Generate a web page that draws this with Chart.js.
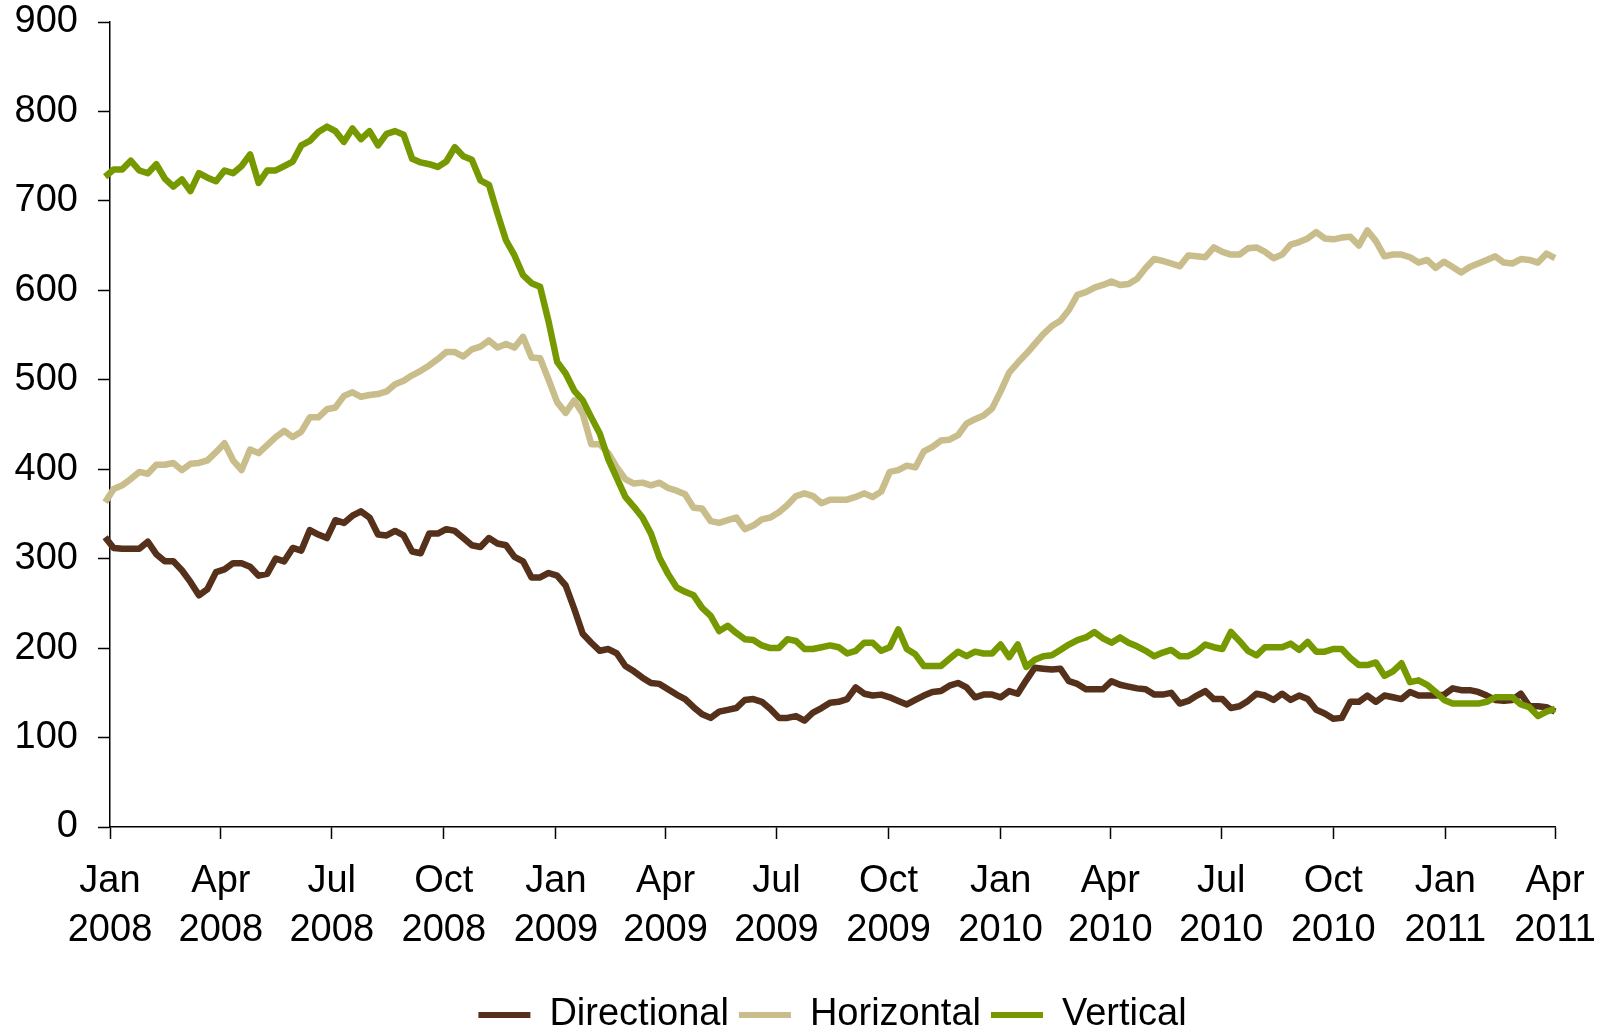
<!DOCTYPE html>
<html>
<head>
<meta charset="utf-8">
<title>Rigs by trajectory</title>
<script src="https://cdn.jsdelivr.net/npm/chart.js@4.4.1/dist/chart.umd.min.js"></script>
<style>
  html, body { margin: 0; padding: 0; background: #fff; overflow: hidden; }
  canvas { display: block; }
</style>
</head>
<body>
<canvas id="rigChart" width="1610" height="1044"></canvas>
<script>
// weekly counts, first week ending 28 Dec 2007, last one 1 Apr 2011
const firstWeek = [2007, 11, 28];

const directional = [
  324, 312, 311, 311, 311, 319, 305, 297, 297, 287,
  274, 259, 266, 285, 288, 295, 295, 291, 281, 283,
  300, 297, 312, 309, 332, 327, 323, 343, 340, 348,
  353, 346, 327, 326, 331, 326, 308, 306, 328, 328,
  333, 331, 323, 315, 313, 323, 317, 315, 302, 297,
  279, 279, 284, 281, 270, 244, 216, 206, 197, 199,
  194, 180, 174, 167, 161, 160, 154, 148, 143, 134,
  126, 122, 129, 131, 133, 142, 143, 140, 132, 122,
  122, 124, 119, 128, 133, 139, 140, 143, 156, 149,
  147, 148, 145, 141, 137, 142, 147, 151, 152, 158,
  161, 156, 145, 148, 148, 145, 152, 149, 164, 178,
  177, 176, 177, 163, 160, 154, 154, 154, 163, 159,
  157, 155, 154, 148, 148, 150, 138, 141, 147, 152,
  143, 143, 133, 135, 141, 149, 147, 142, 149, 142,
  147, 143, 131, 127, 121, 122, 140, 140, 147, 140,
  147, 145, 143, 151, 147, 147, 147, 148, 155, 153,
  153, 151, 147, 142, 141, 142, 149, 135, 135, 134, 129
];

const horizontal = [
  363, 378, 382, 389, 397, 395, 405, 405, 407, 399,
  406, 407, 410, 419, 429, 410, 399, 422, 418, 427,
  436, 443, 436, 442, 458, 458, 467, 469, 482, 486,
  481, 483, 484, 487, 495, 499, 505, 510, 516, 523,
  531, 531, 526, 534, 537, 544, 536, 540, 536, 548,
  525, 524, 500, 475, 463, 477, 462, 428, 428, 418,
  402, 389, 384, 385, 382, 385, 379, 376, 372, 357,
  356, 342, 340, 343, 346, 333, 337, 344, 346, 352,
  360, 370, 373, 370, 362, 366, 366, 366, 369, 373,
  369, 375, 397, 399, 404, 402, 420, 425, 432, 433,
  438, 451, 456, 460, 468, 487, 508, 519, 529, 540,
  551, 560, 566, 578, 595, 598, 603, 606, 610, 606,
  607, 613, 625, 635, 633, 630, 627, 639, 638, 637,
  648, 643, 640, 640, 647, 648, 643, 636, 640, 651,
  654, 658, 665, 658, 657, 659, 660, 650, 667, 655,
  638, 640, 640, 637, 631, 634, 625, 632, 626, 620,
  626, 630, 634, 638, 631, 630, 635, 634, 631, 641, 636
];

const vertical = [
  727, 735, 735, 745, 734, 731, 741, 725, 716, 724,
  711, 731, 726, 722, 734, 731, 739, 752, 720, 734,
  734, 739, 744, 762, 767, 777, 783, 778, 766, 781,
  769, 778, 762, 775, 778, 774, 747, 743, 741, 738,
  744, 760, 750, 746, 723, 718, 686, 656, 639, 617,
  608, 604, 565, 520, 507, 488, 477, 458, 440, 411,
  390, 369, 358, 346, 328, 301, 283, 268, 263, 259,
  245, 236, 219, 225, 217, 210, 209, 203, 200, 200,
  210, 208, 199, 199, 201, 203, 201, 194, 197, 206,
  206, 197, 201, 221, 199, 193, 180, 180, 180, 188,
  196, 191, 196, 194, 194, 204, 190, 204, 179, 187,
  191, 192, 198, 204, 209, 212, 218, 211, 206, 212,
  206, 202, 197, 191, 195, 198, 191, 191, 196, 204,
  201, 199, 218, 208, 197, 192, 201, 201, 201, 205,
  198, 207, 196, 196, 199, 199, 189, 181, 181, 184,
  169, 174, 183, 162, 164, 159, 151, 142, 138, 138,
  138, 138, 140, 145, 145, 145, 137, 134, 124, 129, 132
];

// x axis: one tick per quarter, Jan 2008 .. Apr 2011
const tickMonths = ['Jan', 'Apr', 'Jul', 'Oct'];
const tickYears = [2008, 2009, 2010, 2011];
const lastTick = [2011, 3];

const DAY = 864e5;
const axisStart = Date.UTC(2008, 0, 1);
const dayOf = (y, m, d) => (Date.UTC(y, m, d) - axisStart) / DAY;

const quarterTicks = [];
const quarterLabels = [];
tickYears.forEach((year) => {
  tickMonths.forEach((name, q) => {
    if (year > lastTick[0] || (year === lastTick[0] && q * 3 > lastTick[1])) return;
    quarterTicks.push(dayOf(year, q * 3, 1));
    quarterLabels.push([name, String(year)]);
  });
});

const toPoints = (values) =>
  values.map((v, i) => ({ x: dayOf(firstWeek[0], firstWeek[1], firstWeek[2] + 7 * i), y: v }));

const font = { family: "'Liberation Sans', Arial, sans-serif", size: 38 };

const lineSet = (label, values, color, order) => ({
  label: label,
  data: toPoints(values),
  borderColor: color,
  backgroundColor: color,
  borderWidth: 6.5,
  borderJoinStyle: 'round',
  pointRadius: 0,
  tension: 0,
  clip: 10,
  order: order,
});

const ctx = document.getElementById('rigChart').getContext('2d');

new Chart(ctx, {
  type: 'line',
  data: {
    datasets: [
      lineSet('Directional', directional, '#55301b', 3),
      lineSet('Horizontal', horizontal, '#c9bd8c', 2),
      lineSet('Vertical', vertical, '#769900', 1),
    ],
  },
  options: {
    responsive: false,
    devicePixelRatio: 1,
    animation: false,
    layout: { padding: { top: 22, right: 55, left: 0, bottom: 0 } },
    scales: {
      x: {
        type: 'linear',
        min: 0,
        max: dayOf(lastTick[0], lastTick[1], 1),
        afterBuildTicks: (scale) => {
          scale.ticks = quarterTicks.map((v) => ({ value: v }));
        },
        afterFit: (scale) => {
          scale.height = 159;
          scale.paddingLeft = 0;
          scale.paddingRight = 0;
        },
        ticks: {
          autoSkip: false,
          maxRotation: 0,
          padding: 18,
          color: '#000',
          font: { ...font, lineHeight: 1.29 },
          callback: (value, index) => quarterLabels[index],
        },
        grid: { drawOnChartArea: false, drawTicks: true, tickLength: 12, tickWidth: 1.5, tickColor: '#000' },
        border: { display: true, color: '#000', width: 1.5 },
      },
      y: {
        min: 0,
        max: 900,
        afterFit: (scale) => {
          scale.width = 110;
          scale.paddingTop = 0;
          scale.paddingBottom = 0;
        },
        ticks: {
          stepSize: 100,
          padding: 20,
          color: '#000',
          font: font,
        },
        grid: { drawOnChartArea: false, drawTicks: true, tickLength: 12, tickWidth: 1.5, tickColor: '#000' },
        border: { display: true, color: '#000', width: 1.5 },
      },
    },
    plugins: {
      tooltip: { enabled: false },
      legend: {
        position: 'bottom',
        fullSize: false,
        labels: {
          color: '#000',
          font: font,
          boxWidth: 52,
          boxHeight: 6,
          padding: 10,
          sort: (a, b) => a.datasetIndex - b.datasetIndex,
          generateLabels: (chart) =>
            Chart.defaults.plugins.legend.labels.generateLabels(chart).map((item) =>
              Object.assign(item, { fillStyle: item.strokeStyle, lineWidth: 0 })),
        },
      },
    },
  },
});
</script>
</body>
</html>
